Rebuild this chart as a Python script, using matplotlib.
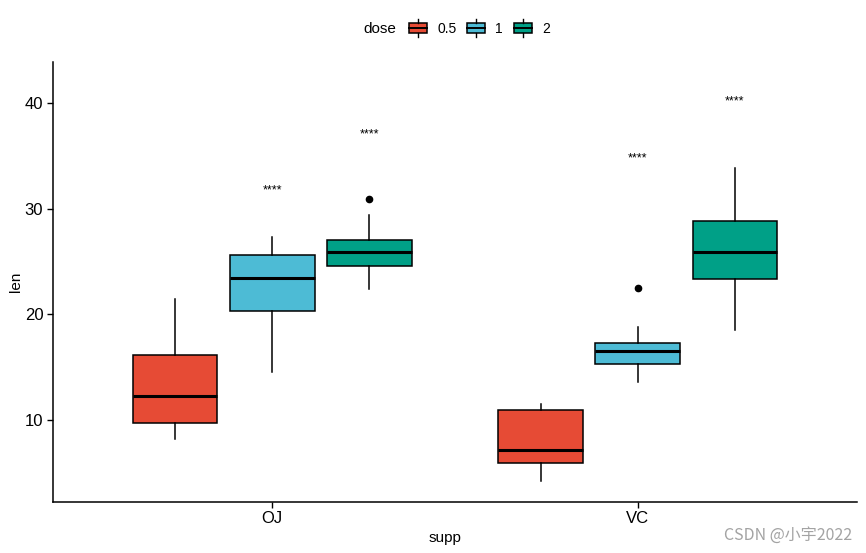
import matplotlib
matplotlib.use("Agg")
import matplotlib.pyplot as plt
from matplotlib.patches import Rectangle
from matplotlib.lines import Line2D
from matplotlib.legend_handler import HandlerBase

plt.rcParams['font.family'] = ['Liberation Sans', 'DejaVu Sans']

# ---- data ----
supp = ["OJ", "VC"]
doses = ["0.5", "1", "2"]
colors = ["#E64B35", "#4DBBD5", "#00A087"]

# box statistics per supp (rows) and dose (cols)
q1 = [[9.70, 20.30, 24.58], [5.95, 15.28, 23.38]]
med = [[12.25, 23.45, 25.95], [7.15, 16.50, 25.95]]
q3 = [[16.18, 25.65, 27.08], [10.90, 17.30, 28.80]]
whislo = [[8.2, 14.5, 22.4], [4.2, 13.6, 18.5]]
whishi = [[21.5, 27.3, 29.4], [11.5, 18.8, 33.9]]
fliers = [[[], [], [30.9]], [[], [22.5], []]]

# significance labels (vs dose 0.5)
sig_labels = [[None, "****", "****"], [None, "****", "****"]]
sig_y = [[None, 31.75, 37.0], [None, 34.75, 40.15]]

yticks = [10, 20, 30, 40]

# ---- figure ----
W, H = 866, 553
fig = plt.figure(figsize=(W / 100, H / 100), dpi=100)
ax = fig.add_axes([53 / W, 1 - 501.7 / H, (857 - 53) / W, (501.7 - 62) / H])

offset = 0.266
bw = 0.232
for i, s in enumerate(supp):
    for j, d in enumerate(doses):
        pos = i + 1 + (j - 1) * offset
        st = dict(med=med[i][j], q1=q1[i][j], q3=q3[i][j],
                  whislo=whislo[i][j], whishi=whishi[i][j],
                  fliers=fliers[i][j])
        ax.bxp([st], positions=[pos], widths=bw, patch_artist=True,
               showcaps=False, manage_ticks=False,
               boxprops=dict(facecolor=colors[j], edgecolor="black", linewidth=1.1),
               medianprops=dict(color="black", linewidth=2.2),
               whiskerprops=dict(color="black", linewidth=1.1),
               flierprops=dict(marker="o", markerfacecolor="black",
                               markeredgecolor="black", markersize=4.5))
        if sig_labels[i][j]:
            ax.text(pos, sig_y[i][j], sig_labels[i][j], ha="center", va="center",
                    fontsize=9)

ax.set_xlim(0.4, 2.6)
ax.set_ylim(2.26, 43.9)
ax.set_xticks([1, 2])
ax.set_xticklabels(supp)
ax.set_yticks(yticks)
ax.tick_params(axis="both", labelsize=12, length=4.5, width=1, colors="black",
               direction="out", pad=2.5)
for sp in ["top", "right"]:
    ax.spines[sp].set_visible(False)
for sp in ["left", "bottom"]:
    ax.spines[sp].set_linewidth(1.1)
    ax.spines[sp].set_color("black")
ax.set_xlabel("supp", fontsize=11)
ax.set_ylabel("len", fontsize=11)
ax.xaxis.set_label_coords((445 - 53) / (857 - 53), -(538 - 501.7) / (501.7 - 62))
ax.xaxis.label.set_va("center")
ax.yaxis.set_label_coords(-(53 - 16) / (857 - 53), 0.5)
ax.yaxis.label.set_va("center")


# ---- legend ----
class BoxHandler(HandlerBase):
    def create_artists(self, legend, orig_handle, xdescent, ydescent,
                       width, height, fontsize, trans):
        col = orig_handle.get_facecolor()
        bh = height * 0.72
        y0 = (height - bh) / 2 - ydescent
        x0 = -xdescent
        rect = Rectangle((x0, y0), width, bh, facecolor=col,
                         edgecolor="black", linewidth=1.1, transform=trans)
        mid = y0 + bh / 2
        l1 = Line2D([x0, x0 + width], [mid, mid], color="black", lw=1.4,
                    transform=trans)
        cx = x0 + width / 2
        stub = height * 0.22
        l2 = Line2D([cx, cx], [y0 + bh, y0 + bh + stub], color="black", lw=1,
                    transform=trans)
        l3 = Line2D([cx, cx], [y0, y0 - stub], color="black", lw=1,
                    transform=trans)
        return [rect, l1, l2, l3]


handles = [Rectangle((0, 0), 1, 1, facecolor=c) for c in colors]
fig.text(363 / W, 1 - 29 / H, "dose", ha="left", va="center", fontsize=11)
leg = fig.legend(handles, doses, loc="center left",
                 bbox_to_anchor=(409 / W, 1 - 28 / H), ncol=3, frameon=False,
                 fontsize=10, handlelength=1.3, handleheight=1.3,
                 handletextpad=0.72, columnspacing=0.8, borderpad=0,
                 borderaxespad=0,
                 handler_map={Rectangle: BoxHandler()})

fig.text(852 / W, 1 - 535 / H, "CSDN @小宇2022", ha="right", va="center",
         fontsize=11.5, color="#a3a3a3",
         family=["Noto Sans CJK SC", "DejaVu Sans"])

fig.savefig("out.png", dpi=100)
